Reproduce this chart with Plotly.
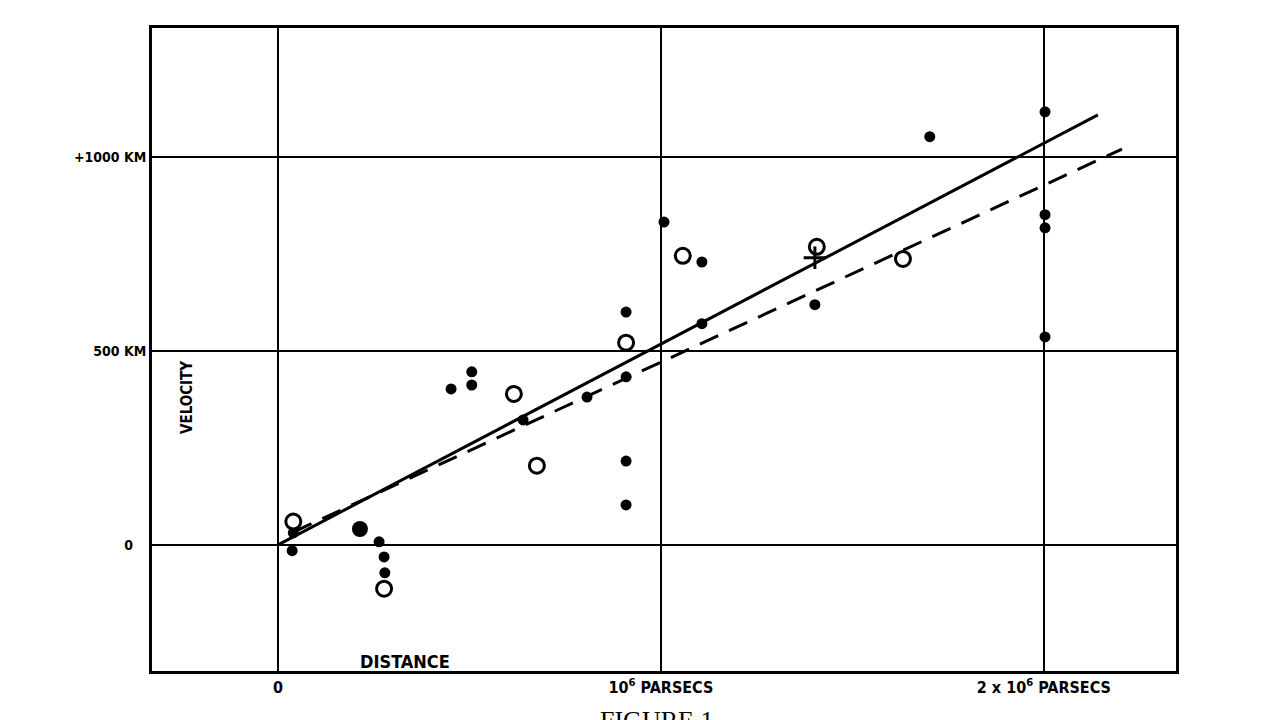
import plotly.graph_objects as go

# distance in units of 10^6 parsecs, velocity in km/s
x_filled = [0.037, 0.040, 0.264, 0.277, 0.279, 0.452, 0.506, 0.506, 0.640, 0.807,
            0.909, 0.909, 0.909, 0.909, 1.008, 1.107, 1.107, 1.402, 1.702,
            2.003, 2.003, 2.003, 2.003]
v_filled = [-15, 31, 8, -31, -72, 402, 446, 412, 322, 381,
            600, 433, 216, 103, 832, 729, 570, 619, 1052,
            1116, 851, 817, 536]
x_big = [0.214]
v_big = [41]
x_open = [0.040, 0.277, 0.616, 0.676, 0.909, 1.057, 1.407, 1.632]
v_open = [60, -113, 389, 204, 521, 745, 768, 737]
x_cross = [1.402]
v_cross = [740]
x_solid = [0.0, 2.141]
v_solid = [0, 1108]
x_dashed = [0.04, 2.204]
v_dashed = [33, 1020]

xticks = [0, 1, 2]
xtick_text = ["0", "10<sup>6</sup> PARSECS", "2 x 10<sup>6</sup> PARSECS"]
yticks = [0, 500, 1000]
ytick_text = ["0   ", "500 KM", "+1000 KM"]

fam = "DejaVu Sans Condensed"

fig = go.Figure()
fig.add_trace(go.Scatter(x=x_solid, y=v_solid, mode="lines",
                         line=dict(color="black", width=3), showlegend=False))
fig.add_trace(go.Scatter(x=x_dashed, y=v_dashed, mode="lines",
                         line=dict(color="black", width=3, dash="20px,12px"),
                         showlegend=False))
fig.add_trace(go.Scatter(x=x_filled, y=v_filled, mode="markers",
                         marker=dict(color="black", size=11), showlegend=False))
fig.add_trace(go.Scatter(x=x_big, y=v_big, mode="markers",
                         marker=dict(color="black", size=16), showlegend=False))
fig.add_trace(go.Scatter(x=x_open, y=v_open, mode="markers",
                         marker=dict(color="white", size=15, symbol="circle",
                                     line=dict(color="black", width=3)),
                         showlegend=False))
fig.add_trace(go.Scatter(x=x_cross, y=v_cross, mode="markers",
                         marker=dict(color="black", size=16, symbol="cross-thin",
                                     line=dict(color="black", width=3)),
                         showlegend=False))

fig.update_xaxes(range=[-0.329, 2.345], tickvals=xticks, ticktext=xtick_text,
                 showgrid=True, gridcolor="black", gridwidth=2, zeroline=False,
                 showline=True, linecolor="black", linewidth=3, mirror=True,
                 ticks="", tickfont=dict(family=fam, size=16, color="black",
                                         weight="bold"))
fig.update_yaxes(range=[-325, 1332], tickvals=yticks, ticktext=ytick_text,
                 showgrid=True, gridcolor="black", gridwidth=2, zeroline=False,
                 showline=True, linecolor="black", linewidth=3, mirror=True,
                 ticks="", tickfont=dict(family=fam, size=14, color="black",
                                         weight="bold"))

fig.add_annotation(x=-0.236, y=380, xref="x", yref="y", text="<b>VELOCITY</b>",
                   textangle=-90, showarrow=False,
                   font=dict(family=fam, size=15, color="black"))
fig.add_annotation(x=0.332, y=-300, xref="x", yref="y", text="<b>DISTANCE</b>",
                   showarrow=False,
                   font=dict(family=fam, size=18, color="black"))
fig.add_annotation(x=0.5, y=-0.052, xref="paper", yref="paper", text="FIGURE 1",
                   showarrow=False, yanchor="top", xanchor="center",
                   xshift=-8,
                   font=dict(family="Liberation Serif", size=26, color="black"))

fig.update_layout(width=1280, height=720, plot_bgcolor="white", paper_bgcolor="white",
                  margin=dict(l=152, r=104, t=28, b=49))
fig.write_html("out.html", config={"displayModeBar": False},
               post_script="document.body.style.margin='0';")
